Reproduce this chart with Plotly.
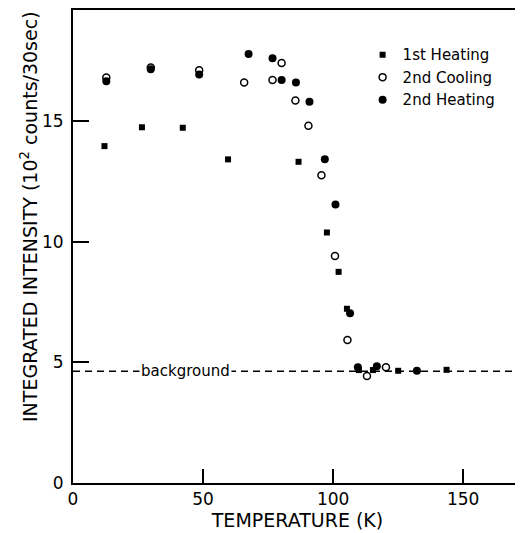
import plotly.graph_objects as go

# 1st Heating (filled squares)
heat1_T = [12.1, 26.5, 42.2, 59.6, 86.7, 97.6, 102.1, 105.3, 109.9, 115.3, 125.0, 143.6]
heat1_I = [13.96, 14.74, 14.72, 13.41, 13.31, 10.38, 8.75, 7.22, 4.68, 4.68, 4.65, 4.69]

# 2nd Cooling (open circles)
cool2_T = [12.8, 29.9, 48.5, 65.8, 76.7, 80.2, 85.5, 90.5, 95.5, 100.7, 105.5, 113.0, 120.3]
cool2_I = [16.8, 17.22, 17.1, 16.6, 16.7, 17.4, 15.85, 14.8, 12.75, 9.41, 5.93, 4.43, 4.8]

# 2nd Heating (filled circles)
heat2_T = [12.8, 29.9, 48.5, 67.5, 76.7, 80.2, 85.7, 90.9, 96.8, 100.9, 106.5, 109.5, 116.8, 132.2]
heat2_I = [16.65, 17.15, 16.93, 17.78, 17.6, 16.7, 16.6, 15.8, 13.42, 11.54, 7.03, 4.80, 4.84, 4.65]

background_level = 4.63
background_T = [0, 175]

x_ticks = [0, 50, 100, 150]
y_ticks = [0, 5, 10, 15]

FONT = "DejaVu Sans"

# page body has an 8px margin: figure is sized/offset to compensate
W, H = 515, 525
ML, MR, MT, MB = 65, 1, 2, 50
PW = W - ML - MR
PH = H - MT - MB

fig = go.Figure()

fig.add_trace(go.Scatter(
    x=background_T, y=[background_level] * len(background_T), mode="lines",
    line=dict(color="black", width=1.5, dash="7px,5px"), showlegend=False, hoverinfo="skip"))

fig.add_trace(go.Scatter(
    x=heat1_T, y=heat1_I, mode="markers", name="1st Heating",
    marker=dict(symbol="square", size=6, color="black")))
fig.add_trace(go.Scatter(
    x=cool2_T, y=cool2_I, mode="markers", name="2nd Cooling",
    marker=dict(symbol="circle-open", size=7, color="black", line=dict(width=1.5))))
fig.add_trace(go.Scatter(
    x=heat2_T, y=heat2_I, mode="markers", name="2nd Heating",
    marker=dict(symbol="circle", size=8, color="black")))

fig.add_annotation(x=43.3, y=background_level, xref="x", yref="y", text="background",
                   showarrow=False, bgcolor="white", font=dict(family=FONT, size=15, color="black"),
                   borderpad=1, xanchor="center", yanchor="middle")

# y-axis title position on the page
title_cx, title_cy = 29, 217
fig.add_annotation(x=(title_cx - 8 - ML) / PW, y=((MT + PH) - (title_cy - 8)) / PH,
                   xref="paper", yref="paper", xanchor="center", yanchor="middle",
                   text="INTEGRATED INTENSITY (10<sup>2</sup> counts/30sec)",
                   textangle=-90, showarrow=False,
                   font=dict(family=FONT, size=19, color="black"))

fig.update_layout(
    width=W, height=H,
    margin=dict(l=ML, r=MR, t=MT, b=MB),
    paper_bgcolor="white", plot_bgcolor="white",
    font=dict(family=FONT, color="black"),
    legend=dict(x=0.645, y=0.94, xanchor="left", yanchor="top",
                font=dict(family=FONT, size=15, color="black"),
                bgcolor="rgba(0,0,0,0)", itemwidth=30),
)

fig.update_xaxes(
    range=[0, 172.6], tickvals=x_ticks, ticks="inside", ticklen=14, tickwidth=2,
    tickcolor="black", showline=True, linecolor="black", linewidth=2, mirror=True,
    showgrid=False, zeroline=False,
    tickfont=dict(family=FONT, size=17, color="black"),
    title=dict(text="TEMPERATURE (K)", font=dict(family=FONT, size=19, color="black"), standoff=4),
)
fig.update_yaxes(
    range=[0, 19.6], tickvals=y_ticks, ticks="inside", ticklen=16, tickwidth=2,
    tickcolor="black", showline=True, linecolor="black", linewidth=2,
    showgrid=False, zeroline=False, ticklabelstandoff=4,
    tickfont=dict(family=FONT, size=17, color="black"),
)

fig.write_html("out.html")
